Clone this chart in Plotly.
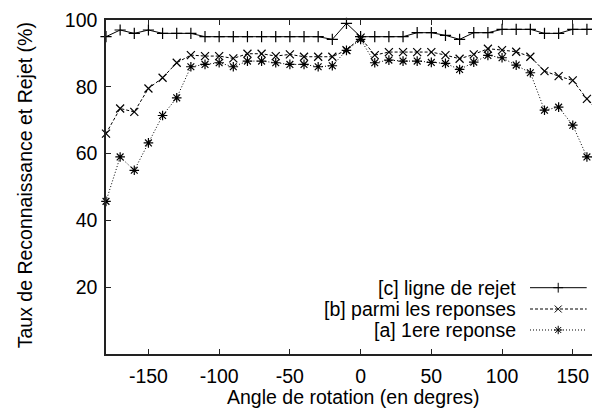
import plotly.graph_objects as go

# ---- data ----
angles = [-180, -170, -160, -150, -140, -130, -120, -110, -100, -90, -80, -70,
          -60, -50, -40, -30, -20, -10, 0, 10, 20, 30, 40, 50,
          60, 70, 80, 90, 100, 110, 120, 130, 140, 150, 160, 170]

rejet_c = [95, 97, 96, 97, 96, 96, 96, 95, 95, 95, 95, 95,
           95, 95, 95, 95, 94.2, 99, 95, 95, 95, 95, 96.2, 96.2,
           95.4, 94.2, 96.2, 96.2, 97.2, 97.2, 97.2, 96, 96, 97.2, 97.2, 97.2]

parmi_b = [66, 73.5, 72.5, 79.5, 82.7, 87.2, 89.5, 89.2, 89.2, 88.5, 89.9, 89.9,
           89.2, 89.7, 89, 89, 89, 91, 94.7, 89.5, 90.4, 90.4, 90.4, 90.4,
           89.5, 88.4, 89.7, 91.4, 91, 90.5, 89, 84.7, 83.2, 81.9, 76.4, 71.4]

premiere_a = [45.7, 59, 55, 63.2, 71.4, 76.7, 86, 86.7, 87.2, 86, 87.7, 87.7,
              87.2, 86.7, 86.7, 86, 86.3, 90.9, 94.2, 87.2, 88, 87.7, 87.7, 87.3,
              87, 85.2, 87.4, 89.4, 88.7, 86.5, 84.2, 73, 73.9, 68.5, 59, 59]

series_names = ["[c] ligne de rejet", "[b] parmi les reponses", "[a] 1ere reponse"]
x_ticks = [-150, -100, -50, 0, 50, 100, 150]
x_tick_labels = ["-150", "-100", "-50", "0", "50", "100", "150"]
y_ticks = [20, 40, 60, 80, 100]
y_tick_labels = ["20", "40", "60", "80", "100"]
x_title = "Angle de rotation (en degres)"
y_title = "Taux de Reconnaissance et Rejet (%)"

# ---- styles ----
FONT = "Liberation Sans, Arial, Helvetica, sans-serif"
FS = 19.5
AX = "#222222"
styles = [
    dict(dash="solid", symbol="cross-thin"),
    dict(dash="3px,2px", symbol="x-thin"),
    dict(dash="1px,2px", symbol="asterisk"),
]
series = [rejet_c, parmi_b, premiere_a]

fig = go.Figure()
for name, ys, st in zip(series_names, series, styles):
    fig.add_trace(go.Scatter(
        x=angles, y=ys, name=name, mode="lines+markers",
        line=dict(color="black", width=1, dash=st["dash"]),
        marker=dict(symbol=st["symbol"], size=8, color="black",
                    line=dict(color="black", width=1.2)),
        cliponaxis=False, showlegend=False, hoverinfo="skip"))

# invisible trace to activate mirror axes (top / right)
fig.add_trace(go.Scatter(x=angles, y=rejet_c, xaxis="x2", yaxis="y2",
                         mode="lines", opacity=0, line=dict(width=0),
                         showlegend=False, hoverinfo="skip"))

# manual gnuplot-style key: text on the left, sample on the right
key_rows = [0.1985, 0.1347, 0.0719]
key_x0, key_x1, key_xm, key_text_x = 0.8583, 0.9731, 0.9154, 0.8334
annotations = []
for name, st, ky in zip(series_names, styles, key_rows):
    fig.add_trace(go.Scatter(
        x=[key_x0, key_x1], y=[ky, ky], xaxis="x3", yaxis="y3", mode="lines",
        line=dict(color="black", width=1, dash=st["dash"]),
        showlegend=False, hoverinfo="skip"))
    fig.add_trace(go.Scatter(
        x=[key_xm], y=[ky], xaxis="x3", yaxis="y3", mode="markers",
        marker=dict(symbol=st["symbol"], size=7, color="black",
                    line=dict(color="black", width=1)),
        showlegend=False, hoverinfo="skip"))
    annotations.append(dict(xref="paper", yref="paper", x=key_text_x, y=ky,
                            xanchor="right", yanchor="middle", text=name,
                            showarrow=False, font=dict(family=FONT, size=FS, color="black")))

annotations.append(dict(xref="paper", yref="paper", x=0.5, y=-0.128,
                        xanchor="center", yanchor="middle", text=x_title,
                        showarrow=False, font=dict(family=FONT, size=FS, color="black")))
annotations.append(dict(xref="paper", yref="paper", x=-0.164, y=0.505,
                        xanchor="center", yanchor="middle", text=y_title, textangle=-90,
                        showarrow=False, font=dict(family=FONT, size=FS, color="black")))

XR = [-180, 169.25]
YR = [0, 100]
common = dict(showgrid=False, zeroline=False, ticks="inside", ticklen=5,
              tickwidth=1, tickcolor=AX, linecolor=AX, linewidth=1.5)

# page body has an 8px margin: figure is sized/offset so the plot area lands
# at x 106..600, y 20..354 of the 600x408 window
fig.update_layout(
    width=592, height=400,
    margin=dict(l=98, r=0, t=12, b=54),
    paper_bgcolor="white", plot_bgcolor="white",
    font=dict(family=FONT, size=FS, color="black"),
    xaxis=dict(range=XR, tickvals=x_ticks, ticktext=x_tick_labels, showline=True,
               mirror=False, ticklabelstandoff=4,
               tickfont=dict(family=FONT, size=FS, color="black"), **common),
    yaxis=dict(range=YR, tickvals=y_ticks, ticktext=y_tick_labels, showline=True,
               mirror=False, ticklabelstandoff=3,
               tickfont=dict(family=FONT, size=FS, color="black"), **common),
    xaxis2=dict(range=XR, tickvals=x_ticks, overlaying="x", side="top",
                showline=True, showticklabels=False, **common),
    yaxis2=dict(range=YR, tickvals=y_ticks, overlaying="y", side="right",
                showline=False, showticklabels=False, **common),
    xaxis3=dict(range=[0, 1], overlaying="x", visible=False),
    yaxis3=dict(range=[0, 1], overlaying="y", visible=False),
    annotations=annotations,
    showlegend=False,
)

fig.write_html("out.html")
